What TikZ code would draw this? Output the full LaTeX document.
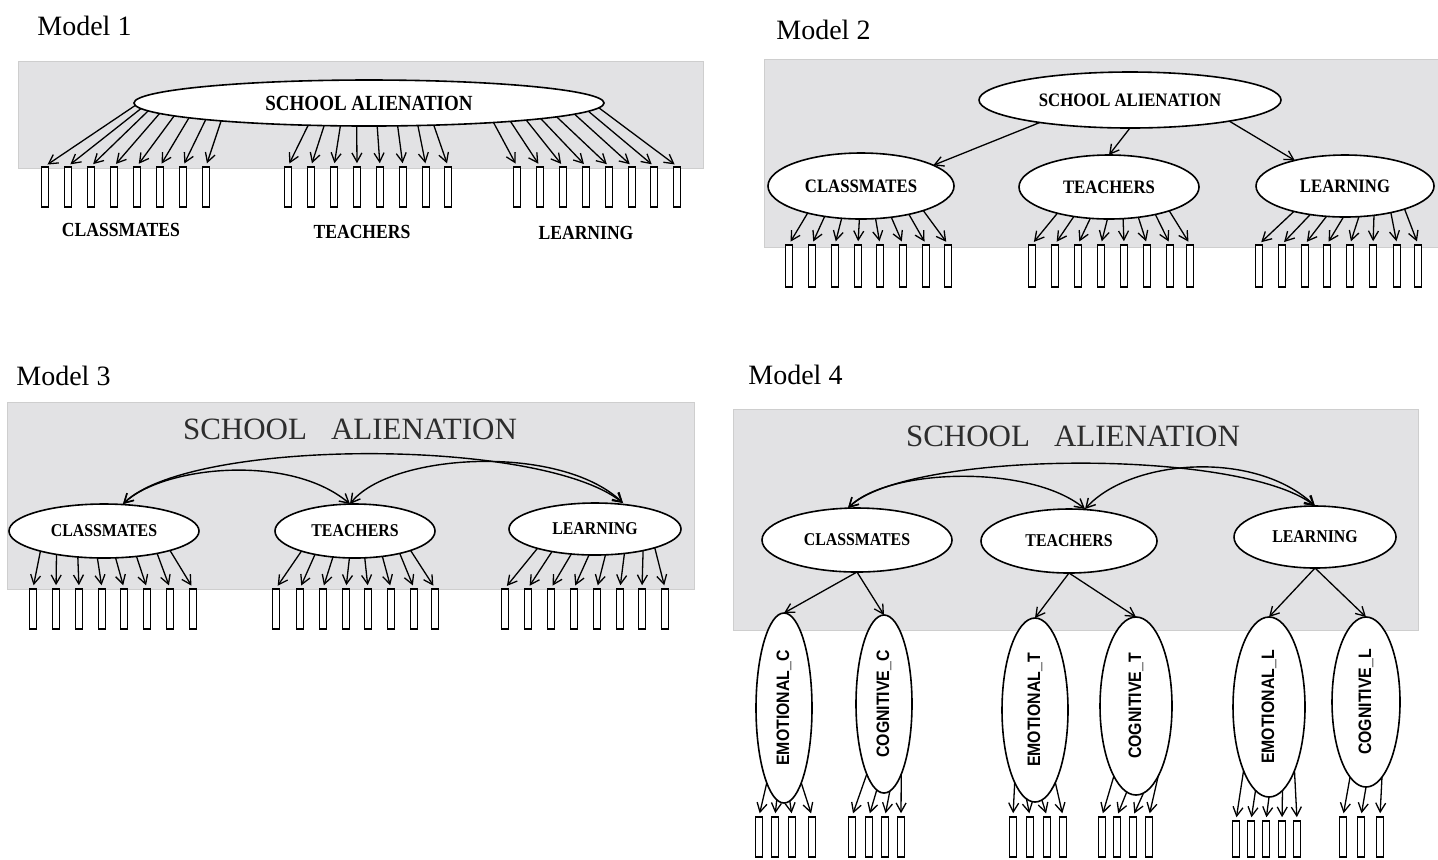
\documentclass[tikz,border=0pt]{standalone}
\usepackage{fontspec}
\setmainfont{Liberation Serif}
\newfontfamily\condserif[FakeStretch=0.88]{Liberation Serif}
\newfontfamily\condsans[FakeStretch=0.88]{Liberation Sans}
\usetikzlibrary{arrows.meta,calc,shapes.geometric}
\definecolor{panel}{RGB}{226,226,228}
\definecolor{panelrule}{RGB}{206,206,206}
\definecolor{bigtext}{RGB}{45,45,45}
\newcommand\fanarrows[5]{%
  \foreach \t [count=\i] in {#5} {%
    \draw[arr,shorten >=1.5pt] ($(#1.center)+({#2*cos(\t)},{#3*sin(\t)})$) -- (#4\i.north);}}
\begin{document}
\begin{tikzpicture}[x=0.5pt,y=-0.5pt,
  panelbox/.style={fill=panel,draw=panelrule,line width=0.5pt},
  lat/.style={ellipse,draw,line width=0.8pt,fill=white,inner sep=0pt,outer sep=0pt},
  ind/.style={rectangle,draw,line width=0.8pt,fill=white,inner sep=0pt,minimum width=3.5pt,minimum height=20pt},
  arr/.style={line width=0.65pt,-{Straight Barb[length=4.5pt,width=5pt]}},
  dbl/.style={line width=0.7pt,{Straight Barb[length=4.5pt,width=5pt]}-{Straight Barb[length=4.5pt,width=5pt]}},
  title/.style={font=\fontsize{14}{16}\selectfont,anchor=base west,inner sep=0pt},
  lab/.style={font=\condserif\bfseries\fontsize{10}{12}\selectfont,inner sep=0pt},
  flab/.style={font=\condserif\bfseries\fontsize{9.5}{11}\selectfont},
  flabs/.style={font=\condserif\bfseries\fontsize{9}{10}\selectfont},
  vlab/.style={font=\condsans\bfseries\fontsize{9}{10}\selectfont},
  bigsa/.style={font=\fontsize{15.5}{18}\selectfont,text=bigtext,inner sep=0pt}]
\useasboundingbox (0,0) rectangle (1438,859);

% ---------------- Model 1 ----------------
\node[title] (t1) at (37,35) {Model 1};
\path[panelbox] (18,61) rectangle (703,168);
\node[lat,minimum width=235pt,minimum height=23pt,font=\condserif\bfseries\fontsize{10.8}{12}\selectfont] (sa1) at (369,103) {SCHOOL ALIENATION};
\foreach \x [count=\i] in {45,68,91,114,137,160,183,206} \node[ind] (m1c\i) at (\x,187) {};
\foreach \x [count=\i] in {288,311,334,357,380,403,426,448} \node[ind] (m1t\i) at (\x,187) {};
\foreach \x [count=\i] in {517,540,563,586,609,632,654,677} \node[ind] (m1l\i) at (\x,187) {};
\fanarrows{sa1}{235}{23}{m1c}{174,166,160,153,146,140,134,129}
\fanarrows{sa1}{235}{23}{m1t}{105,101,97,93,88,83,78,74}
\fanarrows{sa1}{235}{23}{m1l}{58,53,48,43,37,29,21,12}
\node[lab] (l1c) at (121,230) {CLASSMATES};
\node[lab] (l1t) at (362,232) {TEACHERS};
\node[lab] (l1l) at (586,233) {LEARNING};

% ---------------- Model 2 ----------------
\node[title] (t2t) at (776,39) {Model 2};
\path[panelbox] (764,59) rectangle (1438,247);
\node[lat,minimum width=151pt,minimum height=28pt,font=\condserif\bfseries\fontsize{9.5}{11}\selectfont] (sa2) at (1130,100) {SCHOOL ALIENATION};
\node[lat,flab,minimum width=93pt,minimum height=33pt] (c2) at (861,186) {CLASSMATES};
\node[lat,flab,minimum width=90pt,minimum height=32pt] (t2) at (1109,187) {TEACHERS};
\node[lat,flab,minimum width=89pt,minimum height=31pt] (l2) at (1345,186) {LEARNING};
\draw[arr] (sa2.194) -- (c2.16);
\draw[arr] (sa2.south) -- (t2.north);
\draw[arr] (sa2.348) -- (l2.153);
\foreach \x [count=\i] in {789,812,835,858,880,903,926,948} \node[ind,minimum height=21pt] (m2c\i) at (\x,266) {};
\foreach \x [count=\i] in {1032,1055,1078,1101,1124,1147,1170,1190} \node[ind,minimum height=21pt] (m2t\i) at (\x,266) {};
\foreach \x [count=\i] in {1259,1282,1305,1327,1350,1373,1397,1418} \node[ind,minimum height=21pt] (m2l\i) at (\x,266) {};
\fanarrows{c2}{93}{33}{m2c}{125,113,102,91,81,71,59,48}
\fanarrows{t2}{90}{32}{m2t}{125,113,102,91,81,71,59,48}
\fanarrows{l2}{89}{31}{m2l}{125,113,102,91,81,71,59,48}

% ---------------- Model 3 ----------------
\node[title] (t3t) at (16,385) {Model 3};
\path[panelbox] (7,402) rectangle (694,589);
\node[bigsa] (sa3) at (350,429) {SCHOOL\hspace{12pt}ALIENATION};
\node[lat,flabs,minimum width=95pt,minimum height=27pt] (c3) at (104,531) {CLASSMATES};
\node[lat,flabs,minimum width=80pt,minimum height=27pt] (t3) at (355,531) {TEACHERS};
\node[lat,flabs,minimum width=86pt,minimum height=26pt] (l3) at (595,529) {LEARNING};
\draw[dbl] ([xshift=9.5pt]c3.north) .. controls +(67,-66) and +(-83,-66) .. ([xshift=14pt]l3.north);
\draw[dbl] ([xshift=9.5pt]c3.north) .. controls +(40,-38) and +(-60,-51) .. ([xshift=-2.5pt]t3.north);
\draw[dbl] ([xshift=-2.5pt]t3.north) .. controls +(40,-51) and +(-63,-60) .. ([xshift=14pt]l3.north);
\foreach \x [count=\i] in {33,56,79,102,124,147,170,193} \node[ind] (m3c\i) at (\x,609) {};
\foreach \x [count=\i] in {276,300,323,346,368,391,414,435} \node[ind] (m3t\i) at (\x,609) {};
\foreach \x [count=\i] in {505,528,551,574,597,620,642,665} \node[ind] (m3l\i) at (\x,609) {};
\fanarrows{c3}{95}{27}{m3c}{132,120,106,94,83,70,56,46}
\fanarrows{t3}{80}{27}{m3t}{132,120,106,94,83,70,56,46}
\fanarrows{l3}{86}{26}{m3l}{132,120,106,94,83,70,56,46}

% ---------------- Model 4 ----------------
\node[title] (t4t) at (748,384) {Model 4};
\path[panelbox] (733,409) rectangle (1418,630);
\node[bigsa] (sa4) at (1073,436) {SCHOOL\hspace{12pt}ALIENATION};
\node[lat,flabs,minimum width=95pt,minimum height=32pt] (c4) at (857,540) {CLASSMATES};
\node[lat,flabs,minimum width=88pt,minimum height=32pt] (t4) at (1069,541) {TEACHERS};
\node[lat,flabs,minimum width=81pt,minimum height=31pt] (l4) at (1315,537) {LEARNING};
\draw[dbl] ([xshift=-4.5pt]c4.north) .. controls +(60,-58) and +(-75,-58) .. (l4.north);
\draw[dbl] ([xshift=-4.5pt]c4.north) .. controls +(40,-40) and +(-55,-45) .. ([xshift=8pt]t4.north);
\draw[dbl] ([xshift=8pt]t4.north) .. controls +(45,-50) and +(-60,-57) .. (l4.north);
\node[lat,vlab,minimum width=28pt,minimum height=95pt] (ec) at (784,708) {\rotatebox{90}{EMOTIONAL\_C}};
\node[lat,vlab,minimum width=28pt,minimum height=89pt] (cc) at (884,704) {\rotatebox{90}{COGNITIVE\_C}};
\node[lat,vlab,minimum width=33pt,minimum height=92pt] (et) at (1035,710) {\rotatebox{90}{EMOTIONAL\_T}};
\node[lat,vlab,minimum width=36pt,minimum height=89pt] (ct) at (1136,706) {\rotatebox{90}{COGNITIVE\_T}};
\node[lat,vlab,minimum width=36pt,minimum height=90pt] (el) at (1269,707) {\rotatebox{90}{EMOTIONAL\_L}};
\node[lat,vlab,minimum width=34pt,minimum height=85pt] (cl) at (1366,702) {\rotatebox{90}{COGNITIVE\_L}};
\draw[arr] (c4.south) -- (ec.north);
\draw[arr] (c4.south) -- (cc.north);
\draw[arr] (t4.south) -- (et.north);
\draw[arr] (t4.south) -- (ct.north);
\draw[arr] (l4.south) -- (el.north);
\draw[arr] (l4.south) -- (cl.north);
\foreach \x [count=\i] in {759,775,792,812} \node[ind] (b4ec\i) at (\x,837) {};
\foreach \x [count=\i] in {852,869,885,901} \node[ind] (b4cc\i) at (\x,837) {};
\foreach \x [count=\i] in {1013,1030,1047,1063} \node[ind] (b4et\i) at (\x,837) {};
\foreach \x [count=\i] in {1102,1117,1133,1149} \node[ind] (b4ct\i) at (\x,837) {};
\foreach \x [count=\i] in {1236,1251,1266,1282,1297} \node[ind,minimum height=18pt] (b4el\i) at (\x,839) {};
\foreach \x [count=\i] in {1343,1361,1380} \node[ind] (b4cl\i) at (\x,837) {};
\fanarrows{ec}{28}{95}{b4ec}{128,105,78,52}
\fanarrows{cc}{28}{89}{b4cc}{128,105,78,52}
\fanarrows{et}{33}{92}{b4et}{128,105,78,52}
\fanarrows{ct}{36}{89}{b4ct}{128,105,78,52}
\fanarrows{el}{36}{90}{b4el}{135,112,90,68,45}
\fanarrows{cl}{34}{85}{b4cl}{118,90,62}
\end{tikzpicture}
\end{document}
